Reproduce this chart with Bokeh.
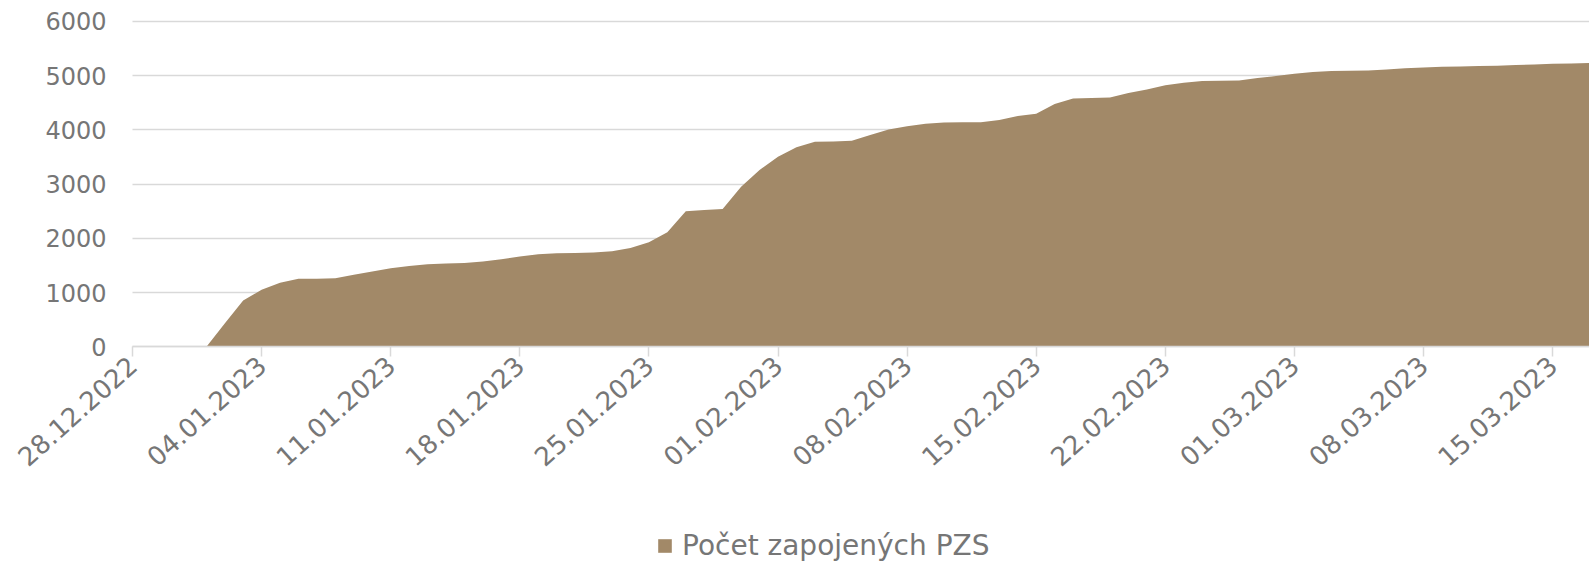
import math
from datetime import datetime, timedelta
import pandas as pd
from bokeh.plotting import figure
from bokeh.models import (ColumnDataSource, Range1d, FixedTicker, DatetimeTickFormatter,
                          Legend, LegendItem, Grid)
from bokeh.embed import file_html
from bokeh.resources import INLINE

# ---- data ----
start_date = "2023-01-01"
end_date = "2023-03-17"
series_name = "Počet zapojených PZS"
values = [
    0, 433, 856, 1053, 1182, 1256, 1256, 1267, 1330, 1390,
    1451, 1495, 1525, 1538, 1549, 1575, 1617, 1667, 1709, 1728,
    1734, 1740, 1765, 1827, 1930, 2114, 2501, 2527, 2545, 2956,
    3263, 3508, 3680, 3785, 3790, 3803, 3908, 4011, 4070, 4115,
    4140, 4145, 4145, 4184, 4258, 4300, 4479, 4582, 4589, 4600,
    4681, 4748, 4825, 4871, 4902, 4908, 4913, 4957, 4994, 5037,
    5068, 5087, 5092, 5098, 5116, 5138, 5153, 5166, 5172, 5178,
    5184, 5197, 5209, 5221, 5227, 5233,
]
tick_dates = ["2022-12-28", "2023-01-04", "2023-01-11", "2023-01-18", "2023-01-25",
              "2023-02-01", "2023-02-08", "2023-02-15", "2023-02-22", "2023-03-01",
              "2023-03-08", "2023-03-15"]
y_ticks = [0, 1000, 2000, 3000, 4000, 5000, 6000]

dates = pd.date_range(start_date, end_date, freq="D")
source = ColumnDataSource(data=dict(date=dates, value=values))

FONT = "DejaVu Sans"
TEXT = "#767676"
GRID = "#d9d9d9"
FILL = "#a28968"

axis_start = datetime(2022, 12, 28)
axis_end = datetime(2023, 3, 17)
ms = lambda d: pd.Timestamp(d).value / 1e6

# the frame covers the whole canvas; axes are pinned inside it
p = figure(width=1589, height=568, output_backend="svg", toolbar_location=None,
           x_axis_type="datetime",
           x_range=Range1d(axis_start - timedelta(days=7.157), axis_end),
           y_range=Range1d(-4083, 6387),
           min_border_left=0, min_border_right=0, min_border_top=0,
           min_border_bottom=0)
p.outline_line_color = None
p.background_fill_color = "white"

r = p.varea(x="date", y1=0, y2="value", source=source, fill_color=FILL)

# x axis
p.xaxis.fixed_location = 0
p.xaxis.bounds = (ms(axis_start), ms(axis_end))
p.xaxis.ticker = FixedTicker(ticks=[ms(d) for d in tick_dates])
p.xaxis.formatter = DatetimeTickFormatter(days="%d.%m.%Y", months="%d.%m.%Y",
                                          years="%d.%m.%Y", hours="%d.%m.%Y")
p.xaxis.major_label_orientation = 0.73
p.xaxis.axis_line_color = GRID
p.xaxis.axis_line_width = 1.5
p.xaxis.major_tick_line_color = GRID
p.xaxis.major_tick_line_width = 1.5
p.xaxis.major_tick_out = 10
p.xaxis.major_tick_in = 0
p.xaxis.minor_tick_line_color = None
p.xaxis.major_label_text_font = FONT
p.xaxis.major_label_text_font_size = "26px"
p.xaxis.major_label_text_color = TEXT
p.xaxis.major_label_standoff = 4

# y axis
p.yaxis.fixed_location = ms(axis_start)
p.yaxis.ticker = FixedTicker(ticks=y_ticks)
p.yaxis.axis_line_color = None
p.yaxis.major_tick_line_color = None
p.yaxis.minor_tick_line_color = None
p.yaxis.major_tick_out = 0
p.yaxis.major_label_standoff = 26
p.yaxis.major_label_text_font = FONT
p.yaxis.major_label_text_font_size = "24px"
p.yaxis.major_label_text_color = TEXT

p.xgrid.grid_line_color = None
if "cross_bounds" in Grid.properties():
    p.ygrid.grid_line_color = GRID
    p.ygrid.grid_line_width = 1.5
    p.ygrid.cross_bounds = (ms(axis_start), ms(axis_end))
else:
    p.ygrid.grid_line_color = None
    gsrc = ColumnDataSource(data=dict(y=y_ticks[1:],
                                      x0=[axis_start] * (len(y_ticks) - 1),
                                      x1=[axis_end] * (len(y_ticks) - 1)))
    p.segment(x0="x0", x1="x1", y0="y", y1="y", source=gsrc,
              line_color=GRID, line_width=1.5, level="underlay")

legend = Legend(items=[LegendItem(label=series_name, renderers=[r])],
                location=(656, 6), orientation="horizontal",
                label_text_font=FONT, label_text_font_size="28px",
                label_text_color=TEXT, glyph_width=17, glyph_height=17,
                label_standoff=9, padding=0, margin=0, spacing=0,
                border_line_color=None, background_fill_alpha=0)
p.add_layout(legend, "center")

open("out.html", "w").write(file_html(p, INLINE))
